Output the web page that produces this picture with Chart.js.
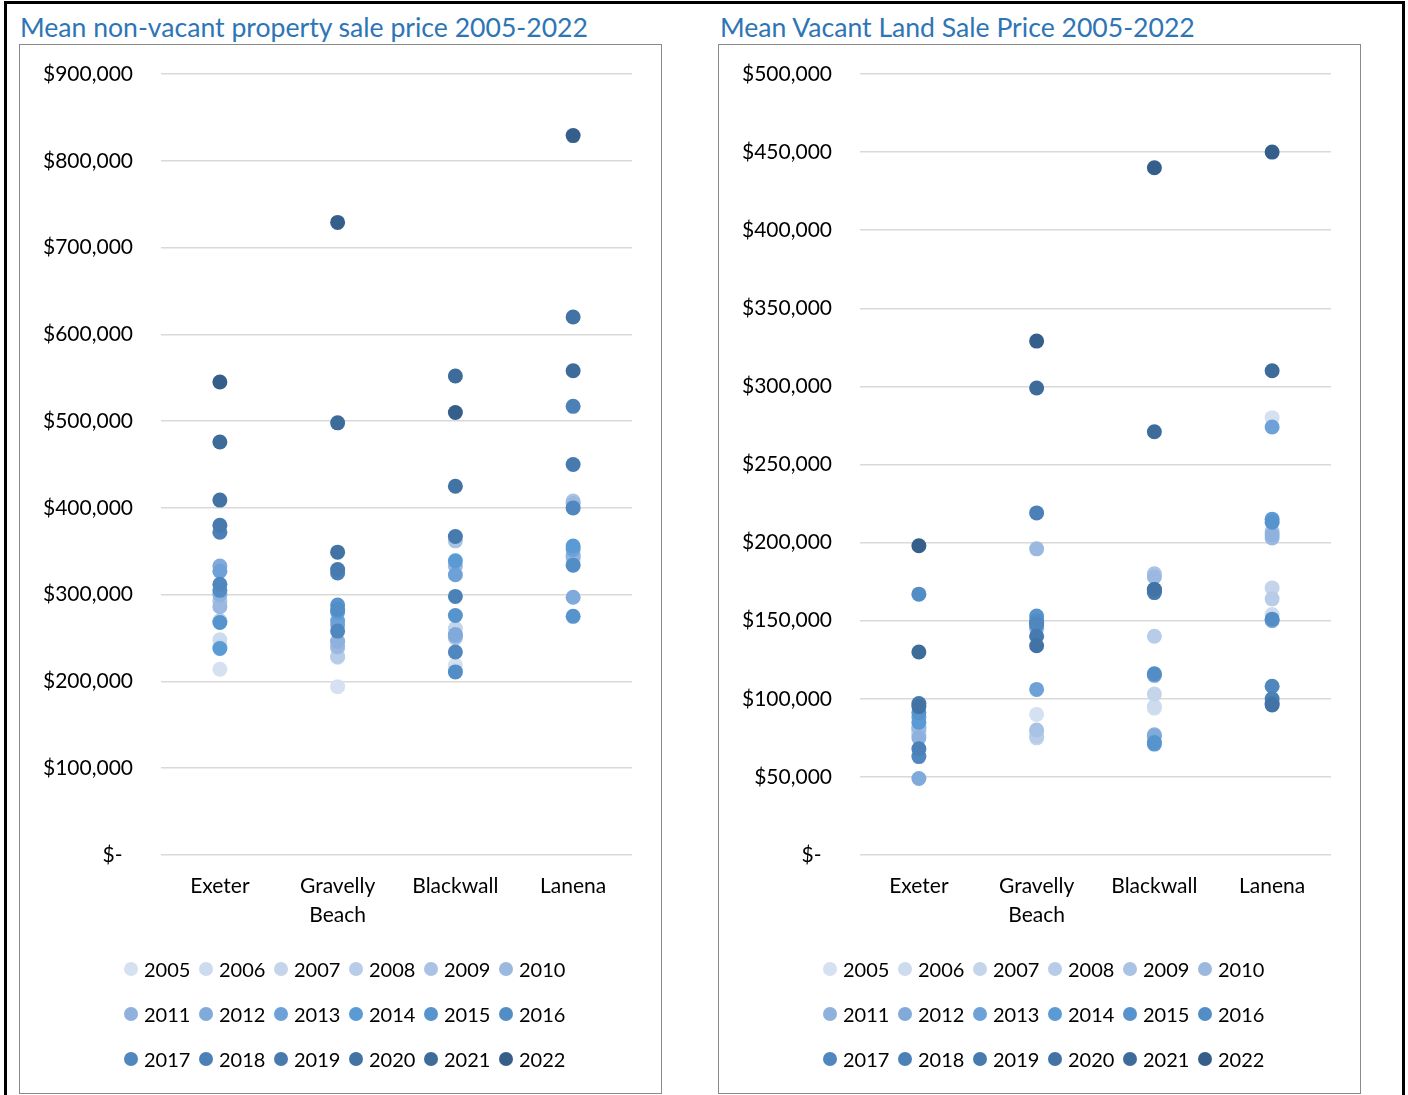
<!DOCTYPE html>
<html>
<head>
<meta charset="utf-8">
<script src="https://cdn.jsdelivr.net/npm/chart.js@4.4.1/dist/chart.umd.min.js"></script>
<style>
  html, body { margin: 0; padding: 0; background: #fff; }
  body { width: 1408px; height: 1095px; position: relative; overflow: hidden; font-family: Lato, "Open Sans", sans-serif; }
  .frame { position: absolute; left: 4px; top: 1px; width: 1401px; height: 1200px; border: 3px solid #000; box-sizing: border-box; }
  .title { position: absolute; top: 11px; font-size: 26.6px; color: #2E75B6; white-space: nowrap; }
  .box { position: absolute; top: 44px; width: 643px; height: 1050px; border: 1px solid #8a8a8a; box-sizing: border-box; background: #fff; }
  .box canvas { position: absolute; left: 0; top: 0; }
  .legend { position: absolute; left: 0; top: 0; width: 100%; height: 100%; pointer-events: none; }
  .item { position: absolute; height: 22px; display: flex; align-items: center; font-size: 20px; color: #000; white-space: nowrap; }
  .dot { width: 14px; height: 14px; border-radius: 50%; margin-right: 6px; flex: none; }
</style>
</head>
<body>
<div class="frame"></div>
<div class="title" style="left:20px">Mean non-vacant property sale price 2005-2022</div>
<div class="title" style="left:720px">Mean Vacant Land Sale Price 2005-2022</div>
<div class="box" style="left:19px"><canvas id="c1" width="641" height="1048"></canvas><div class="legend" id="l1"></div></div>
<div class="box" style="left:718px"><canvas id="c2" width="641" height="1048"></canvas><div class="legend" id="l2"></div></div>
<script>
// Suburbs along the x axis
const categories = ['Exeter', ['Gravelly', 'Beach'], 'Blackwall', 'Lanena'];
const years = ['2005','2006','2007','2008','2009','2010','2011','2012','2013',
               '2014','2015','2016','2017','2018','2019','2020','2021','2022'];

// Series colours, one per year, light to dark
const yearColors = ['#d5e0f1','#cddbee','#c3d4eb','#b7cce8','#a9c3e4','#9bb9e0',
                    '#8fb1dd','#7faada','#6da1d8','#5b9bd5','#5794cd','#538dc5',
                    '#4f87be','#4b81b6','#477aae','#4273a4','#3d6b9a','#355f8a'];

// Mean non-vacant property sale price by year (2005..2022), $
const nonVacantExeter    = [214000,248000,240000,270000,292000,286000,300000,333000,327000,238000,268000,305000,312000,372000,380000,409000,476000,545000];
const nonVacantGravelly  = [194000,238000,228000,229000,246000,240000,246000,265000,270000,280000,288000,283000,258000,325000,329000,349000,498000,729000];
const nonVacantBlackwall = [219000,213000,261000,250000,362000,333000,252000,254000,323000,339000,276000,211000,234000,298000,367000,425000,552000,510000];
const nonVacantLanena    = [336000,342000,340000,346000,408000,405000,344000,297000,352000,356000,275000,334000,400000,517000,450000,620000,558000,829000];

// Mean vacant land sale price by year (2005..2022), $
const vacantExeter    = [78000,80000,79000,77000,82000,81000,75000,49000,88000,85000,91000,167000,63000,68000,97000,95000,130000,198000];
const vacantGravelly  = [90000,79000,75000,76000,80000,196000,145000,149000,106000,147000,153000,150000,148000,219000,140000,134000,299000,329000];
const vacantBlackwall = [94000,95000,103000,140000,180000,178000,77000,76000,115000,71000,72000,116000,170000,169000,168000,170000,271000,440000];
const vacantLanena    = [280000,154000,171000,164000,207000,203000,205000,150000,274000,215000,213000,151000,108000,100000,97000,96000,310000,450000];

// Axis ranges
const nonVacantAxis = { max: 900000, step: 100000 };
const vacantAxis    = { max: 500000, step: 50000 };

const FONT = 'Lato, "Open Sans", sans-serif';

function moneyLabel(v) {
  if (v === 0) return '$-\u2002';
  return '$' + v.toLocaleString('en-US');
}

function buildDatasets(bySuburb) {
  return years.map((y, i) => ({
    label: y,
    data: bySuburb.map(arr => arr[i]),
    showLine: false,
    backgroundColor: yearColors[i],
    borderColor: yearColors[i],
    pointRadius: 7.5,
    pointHoverRadius: 7.5,
    pointBorderWidth: 0,
    order: years.length - 1 - i   // later years drawn on top
  }));
}

function makeChart(canvasId, legendId, bySuburb, axis) {
  const chart = new Chart(document.getElementById(canvasId), {
    type: 'line',
    data: { labels: categories, datasets: buildDatasets(bySuburb) },
    options: {
      responsive: false,
      animation: false,
      events: [],
      layout: { padding: { top: 29, right: 29, left: 0, bottom: 0 } },
      plugins: { legend: { display: false }, tooltip: { enabled: false } },
      scales: {
        x: {
          type: 'category',
          offset: true,
          grid: { display: false, drawTicks: false },
          border: { display: false },
          ticks: {
            padding: 17,
            color: '#000',
            maxRotation: 0,
            autoSkip: false,
            font: { family: FONT, size: 21, lineHeight: 1.38 }
          },
          afterFit(scale) { scale.height = 238; }
        },
        y: {
          min: 0,
          max: axis.max,
          grid: { color: '#d9d9d9', lineWidth: 1.5, drawTicks: false },
          border: { display: false },
          ticks: {
            stepSize: axis.step,
            padding: 28,
            color: '#000',
            font: { family: FONT, size: 21 },
            callback: v => moneyLabel(v)
          },
          afterFit(scale) {
            scale.width = 141;
            scale.paddingTop = 0;
            scale.paddingBottom = 0;
          }
        }
      }
    }
  });

  // Legend: 3 rows of 6 years, built from the chart's datasets
  const host = document.getElementById(legendId);
  chart.data.datasets.forEach((ds, i) => {
    const row = Math.floor(i / 6), col = i % 6;
    const el = document.createElement('div');
    el.className = 'item';
    el.style.left = (104 + 75 * col) + 'px';
    el.style.top = (969 - 45 - 11 + 45 * row) + 'px';
    const dot = document.createElement('span');
    dot.className = 'dot';
    dot.style.background = ds.backgroundColor;
    el.appendChild(dot);
    el.appendChild(document.createTextNode(ds.label));
    host.appendChild(el);
  });
  return chart;
}

makeChart('c1', 'l1', [nonVacantExeter, nonVacantGravelly, nonVacantBlackwall, nonVacantLanena], nonVacantAxis);
makeChart('c2', 'l2', [vacantExeter, vacantGravelly, vacantBlackwall, vacantLanena], vacantAxis);
</script>
</body>
</html>
